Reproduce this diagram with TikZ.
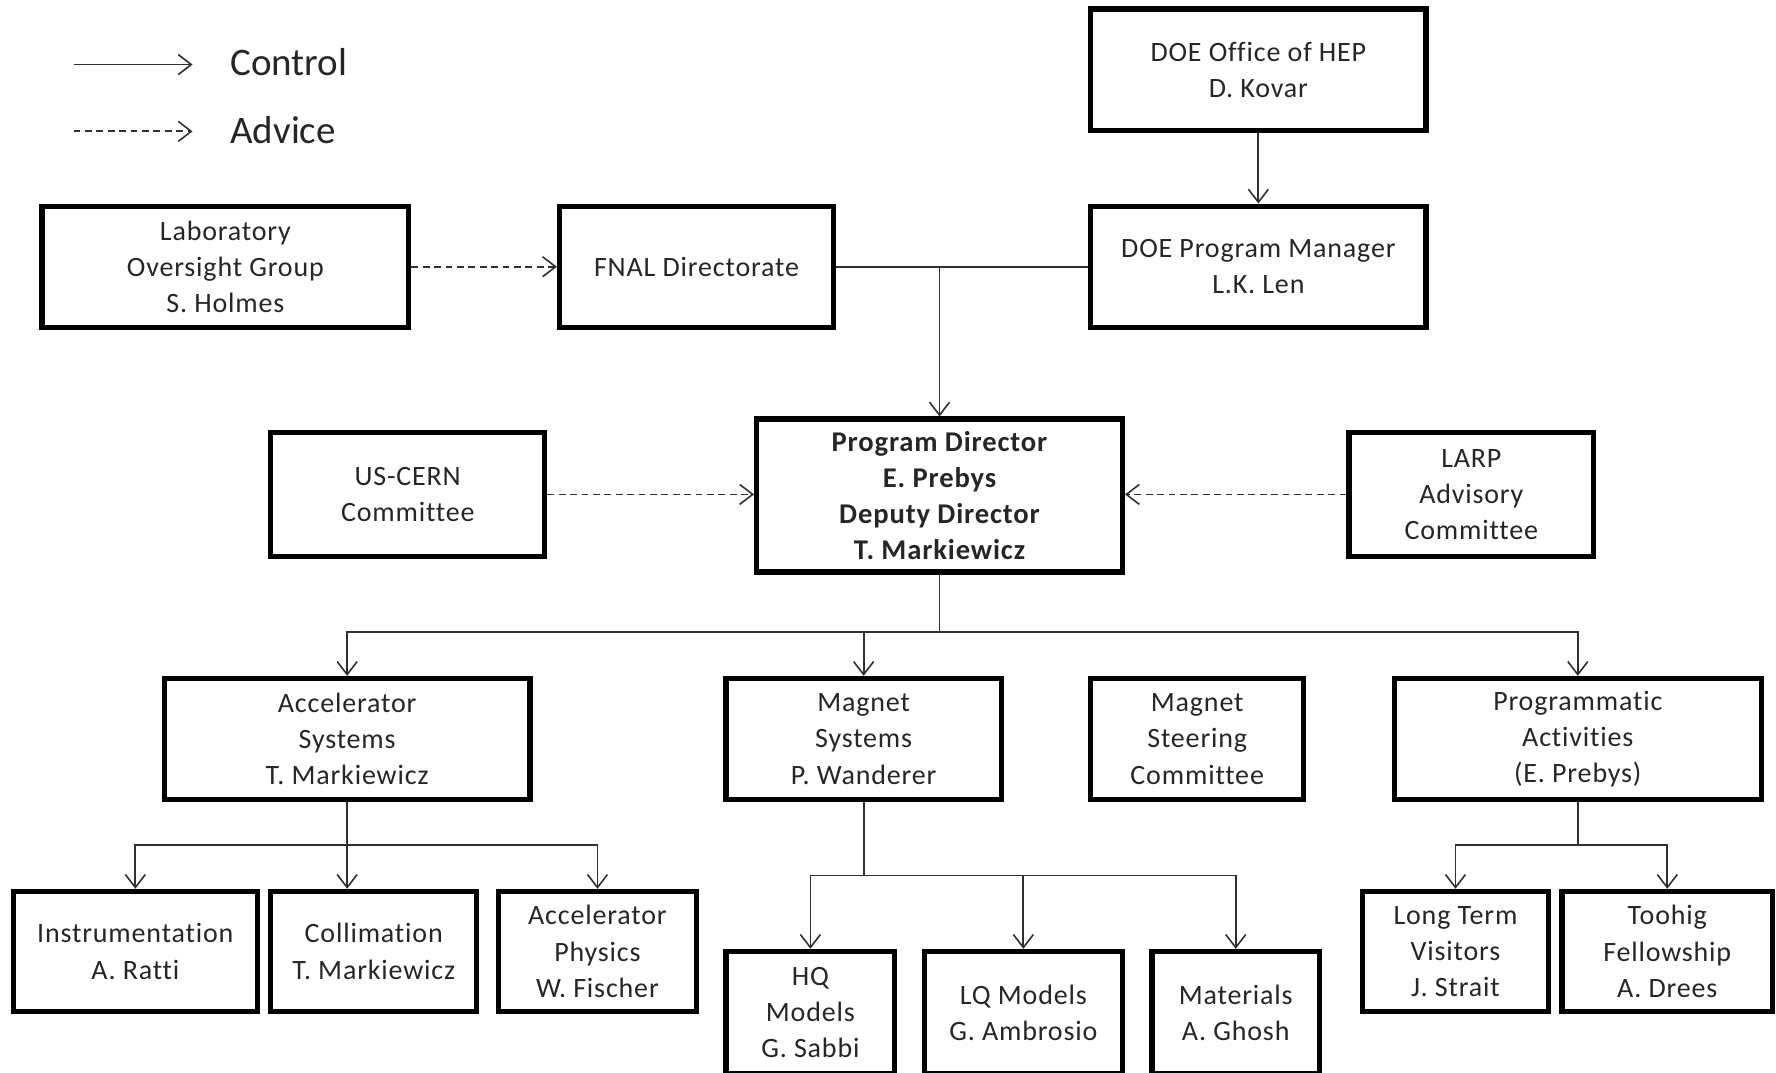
\documentclass[tikz,border=0pt]{standalone}
\usepackage{fontspec}
\setmainfont{Carlito}[Ligatures=NoCommon, LetterSpace=3]
\newfontfamily\legfont{Carlito}[Ligatures=NoCommon]
\usetikzlibrary{arrows.meta}
\definecolor{txt}{HTML}{262626}
\definecolor{ln}{HTML}{303030}
\tikzset{
  box/.style={draw=black, line width=2.6pt, inner sep=0pt, align=center, text=txt,
    font=\fontsize{14}{18.1}\selectfont},
  ctl/.style={draw=ln, line width=0.9pt, -{Straight Barb[length=6.5pt,width=10pt,line width=0.8pt]}},
  plain/.style={draw=ln, line width=0.9pt},
  adv/.style={ctl, dash pattern=on 3.4pt off 2.3pt},
  legtext/.style={anchor=west, text=txt, font=\legfont\fontsize{19.5}{23}\selectfont, inner sep=0pt},
}
% #1 extra, #2 x1, #3 name, #4 x2, #5 y1, #6 y2, #7 text
\newcommand\obox[7][]{\node[box,#1, minimum width={(#4-#2)*0.5664pt}, minimum height={(#6-#5)*0.5664pt}] (#3) at ({(#2+#4)/2},{(#5+#6)/2}) {#7};}
\begin{document}
\begin{tikzpicture}[x=0.5664pt, y=-0.5664pt]
\useasboundingbox (0,0) rectangle (1568,947);
% legend
\coordinate (lc1) at (65,57); \coordinate (lc2) at (170,57);
\coordinate (la1) at (65,116); \coordinate (la2) at (170,116);
\draw[ctl] (lc1) -- (lc2);
\draw[adv] (la1) -- (la2);
\node[legtext] (lgc) at (203,55) {Control};
\node[legtext] (lga) at (203,115) {Advice};
% boxes
\obox{37}{lab}{361}{182}{289}{Laboratory\\Oversight Group\\S. Holmes}
\obox{494}{fnal}{736}{182}{289}{FNAL Directorate}
\obox{963}{hep}{1259}{8}{115}{DOE Office of HEP\\D. Kovar}
\obox{963}{pm}{1259}{182}{289}{DOE Program Manager\\L.K. Len}
\obox[font=\fontsize{14.3}{18.1}\selectfont\bfseries]{668}{pd}{991}{370}{505}{Program Director\\E. Prebys\\Deputy Director\\T. Markiewicz}
\obox{239}{uscern}{481}{382}{491}{US-CERN\\Committee}
\obox{1191}{larp}{1407}{382}{491}{LARP\\Advisory\\Committee}
\obox{145}{accsys}{468}{599}{706}{Accelerator\\Systems\\T. Markiewicz}
\obox{641}{magsys}{884}{599}{706}{Magnet\\Systems\\P. Wanderer}
\obox{963}{magst}{1151}{599}{706}{Magnet\\Steering\\Committee}
\obox{1231}{prog}{1555}{599}{706}{Programmatic\\Activities\\(E. Prebys)}
\obox{12}{instr}{227}{787}{893}{Instrumentation\\A. Ratti}
\obox{239}{coll}{421}{787}{893}{Collimation\\T. Markiewicz}
\obox{440}{accphys}{615}{787}{893}{Accelerator\\Physics\\W. Fischer}
\obox{641}{hq}{790}{840}{948}{HQ\\Models\\G. Sabbi}
\obox{816}{lq}{991}{840}{948}{LQ Models\\G. Ambrosio}
\obox{1017}{mat}{1165}{840}{948}{Materials\\A. Ghosh}
\obox{1203}{ltv}{1367}{787}{893}{Long Term\\Visitors\\J. Strait}
\obox{1379}{toohig}{1565}{787}{893}{Toohig\\Fellowship\\A. Drees}
% connectors top
\draw[ctl] (hep.south) -- (pm.north);
\draw[adv] (lab.east) -- (fnal.west);
\draw[plain] (fnal.east) -- (pm.west);
\coordinate (jtop) at (pd.north |- fnal.east);
\draw[ctl] (jtop) -- (pd.north);
\draw[adv] (uscern.east) -- (uscern.east -| pd.west);
\draw[adv] (larp.west) -- (larp.west -| pd.east);
% level 2
\coordinate (j1) at (829.5,558);
\draw[plain] (pd.south) -- (j1);
\draw[ctl] (j1) -| (accsys.north);
\draw[ctl] (j1) -| (prog.north);
\draw[ctl] (magsys.north |- j1) -- (magsys.north);
% acc sys children
\coordinate (j2) at (306.5,746);
\draw[plain] (accsys.south) -- (j2);
\draw[ctl] (j2) -| (instr.north);
\draw[ctl] (j2) -| (accphys.north);
\draw[ctl] (j2) -- (j2 |- coll.north);
% magnet children
\coordinate (j3) at (762.5,773);
\draw[plain] (magsys.south) -- (j3);
\draw[ctl] (j3) -| (hq.north);
\draw[ctl] (j3) -| (mat.north);
\draw[ctl] (lq.north |- j3) -- (lq.north);
% programmatic children
\coordinate (j4) at (1393,746);
\draw[plain] (prog.south) -- (j4);
\draw[ctl] (j4) -| (ltv.north);
\draw[ctl] (j4) -| (toohig.north);
\end{tikzpicture}
\end{document}
